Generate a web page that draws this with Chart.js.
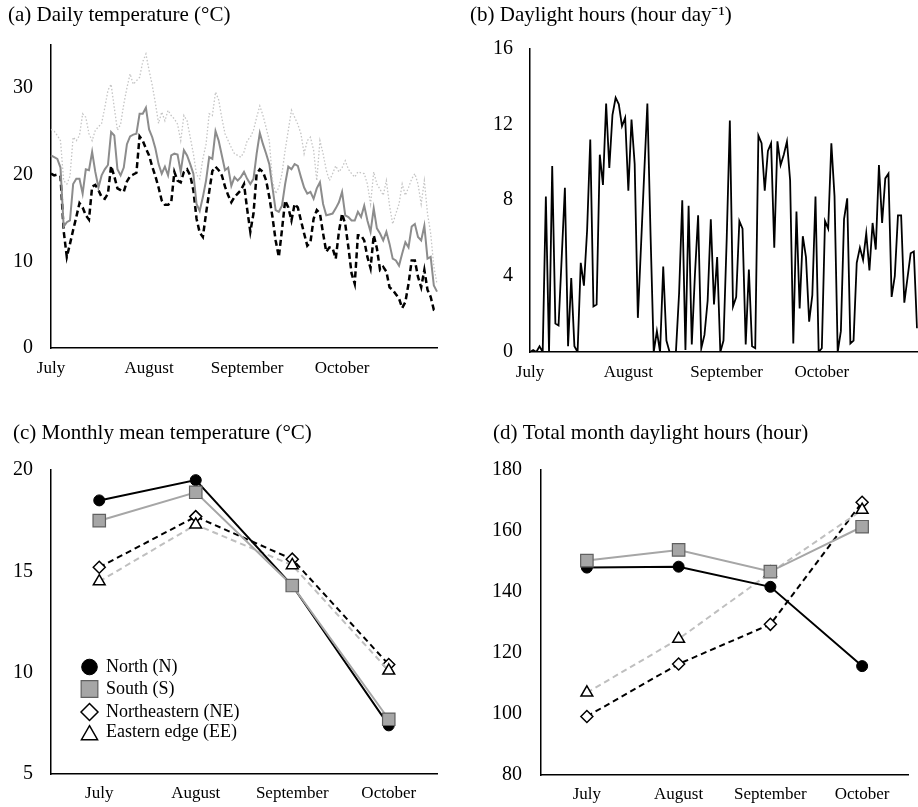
<!DOCTYPE html>
<html>
<head>
<meta charset="utf-8">
<title>Temperature and daylight</title>
<script src="https://cdn.jsdelivr.net/npm/chart.js"></script>
<style>
  html, body { margin: 0; padding: 0; background: #fff; overflow: hidden; }
  #wrap { position: relative; width: 918px; height: 807px; overflow: hidden; }
  #wrap canvas { position: absolute; }
</style>
</head>
<body>
<div id="wrap">
  <canvas id="chartA" width="459" height="400" style="left:0;top:0"></canvas>
  <canvas id="chartB" width="459" height="400" style="left:459px;top:0"></canvas>
  <canvas id="chartC" width="459" height="420" style="left:0;top:400px"></canvas>
  <canvas id="chartD" width="459" height="420" style="left:459px;top:400px"></canvas>
</div>
<script>
// months shown on every panel
const months = ['July', 'August', 'September', 'October'];
const monthDays = [31, 31, 30, 31];

// (a) daily temperature, one value per day from 1 July to 31 October
const tempMax = [
  25.2, 25.0, 24.5, 23.9, 19.3, 18.9, 19.8, 24.3, 23.9, 24.5, 27.0, 26.6, 24.7, 23.9, 25.1, 25.5,
  25.9, 27.7, 29.7, 30.4, 27.7, 25.1, 25.8, 28.1, 30.0, 31.6, 30.4, 30.8, 31.2, 33.0, 33.9,
  32.0, 30.3, 28.2, 25.9, 27.2, 26.2, 27.4, 26.8, 26.4, 25.8, 23.9, 26.8, 26.2, 24.3, 22.4, 20.0,
  19.5, 21.8, 23.5, 27.0, 26.8, 29.5, 28.6, 26.5, 24.7, 23.9, 23.1, 22.4, 22.2, 22.0, 22.6,
  23.9, 24.3, 25.1, 26.6, 27.9, 26.8, 25.4, 23.9, 19.3, 17.8, 18.5, 20.1, 22.8, 25.1, 27.4,
  26.6, 25.8, 24.7, 22.4, 23.9, 24.3, 22.8, 19.3, 23.9, 22.4, 20.5, 19.3, 20.1, 21.0, 20.3,
  20.8, 21.6, 20.6, 20.1, 19.7, 20.3, 20.2, 20.1, 18.9, 16.6, 20.3, 18.9, 18.3, 17.6, 19.3, 16.4,
  14.3, 15.5, 16.6, 18.9, 17.6, 18.5, 19.5, 20.1, 18.9, 16.6, 19.3, 15.5, 13.2, 9.4, 7.4
];
const tempMean = [
  22.2, 22.0, 21.8, 20.8, 14.0, 14.5, 14.7, 18.9, 19.5, 19.5, 17.8, 20.6, 20.5, 22.6, 20.3, 18.5,
  19.9, 20.6, 21.1, 24.9, 24.5, 20.6, 19.9, 20.8, 23.5, 24.4, 24.6, 24.7, 27.0, 27.0, 27.7,
  25.2, 24.3, 23.0, 21.2, 20.1, 20.9, 19.9, 22.2, 22.4, 22.3, 20.3, 22.8, 22.2, 21.2, 20.1, 16.6,
  15.8, 17.4, 19.3, 22.0, 21.8, 25.0, 23.9, 22.2, 20.5, 20.8, 18.7, 19.7, 19.3, 19.7, 20.3,
  19.5, 18.9, 19.5, 22.4, 24.8, 23.5, 22.4, 21.2, 18.5, 15.9, 15.7, 16.4, 18.9, 20.9, 20.6,
  21.2, 21.0, 19.7, 18.5, 17.8, 18.0, 17.2, 18.4, 19.1, 16.6, 15.3, 15.4, 15.5, 16.1, 16.8,
  18.0, 15.3, 15.1, 14.7, 14.7, 15.7, 15.1, 16.4, 14.7, 13.4, 16.1, 13.8, 13.2, 12.4, 13.4, 12.0,
  10.3, 10.1, 9.5, 10.9, 12.2, 11.6, 14.0, 14.3, 12.8, 12.4, 14.1, 10.3, 10.5, 7.2, 6.5
];
const tempMin = [
  20.1, 19.9, 20.0, 19.8, 13.5, 10.5, 12.0, 13.6, 15.1, 16.7, 16.2, 15.3, 14.8, 18.6, 18.8, 18.2,
  17.4, 17.2, 17.8, 21.0, 19.8, 18.4, 18.2, 18.0, 19.2, 19.8, 20.0, 20.2, 24.4, 23.9, 23.0,
  22.2, 20.9, 19.8, 18.5, 17.0, 16.5, 16.5, 16.8, 20.3, 19.3, 19.1, 20.3, 20.6, 19.9, 18.2, 14.9,
  13.3, 12.8, 15.5, 18.0, 20.4, 20.9, 20.5, 19.9, 18.6, 17.6, 16.8, 17.4, 17.8, 18.2, 18.9,
  16.0, 13.4, 15.5, 20.1, 20.6, 20.3, 19.3, 17.4, 15.1, 12.4, 10.5, 13.6, 17.0, 16.2, 14.7,
  16.6, 16.2, 14.7, 13.2, 11.8, 12.2, 14.9, 15.9, 15.5, 13.2, 11.1, 11.6, 11.5, 10.3, 13.4,
  15.5, 14.3, 11.6, 8.6, 7.4, 13.0, 13.0, 12.4, 10.5, 9.2, 13.0, 11.5, 9.0, 9.35, 8.8, 7.0,
  6.7, 6.2, 5.7, 4.6, 5.3, 7.4, 10.1, 10.1, 8.2, 7.0, 9.0, 6.7, 5.9, 4.4, 4.2
];

// (b) daily daylight hours
const daylight = [
  0.0, 0.1, 0.0, 0.3, 0.0, 8.2, 0.0, 9.8, 1.5, 1.4, 5.0, 8.65, 0.3, 3.9, 0.3, 0.0,
  4.7, 3.5, 6.4, 11.2, 2.4, 2.5, 10.4, 8.8, 13.1, 9.7, 12.5, 13.4, 13.05, 11.9, 12.35,
  8.5, 12.25, 9.9, 1.8, 5.6, 9.4, 13.1, 6.2, 0.0, 1.1, 0.0, 4.5, 0.6, 0.0, 0.0, 0.0,
  3.1, 8.0, 0.1, 7.7, 0.4, 4.1, 7.2, 0.2, 0.9, 2.7, 7.0, 2.5, 5.0, 0.0, 0.6,
  5.9, 12.2, 2.4, 2.9, 6.9, 6.5, 0.4, 4.35, 0.3, 0.2, 11.4, 11.0, 8.5, 10.6, 11.0,
  5.5, 11.1, 9.85, 10.4, 11.1, 9.05, 0.45, 7.4, 2.3, 6.1, 5.0, 1.6, 3.0, 8.2, 0.0,
  0.2, 6.9, 6.5, 11.0, 8.2, 0.0, 1.1, 7.0, 8.1, 0.45, 0.6, 4.7, 5.5, 4.85, 6.25, 4.3,
  6.8, 5.4, 9.85, 6.8, 9.15, 9.4, 2.9, 4.0, 7.2, 7.2, 2.6, 3.9, 5.2, 5.3, 1.25
];

// (c) and (d) monthly values per region
const regions = ['North (N)', 'South (S)', 'Northeastern (NE)', 'Eastern edge (EE)'];
const monthlyTemp = [
  [18.5, 19.5, 14.3, 7.4],
  [17.5, 18.9, 14.3, 7.7],
  [15.2, 17.7, 15.6, 10.4],
  [14.5, 17.3, 15.3, 10.1]
];
const monthlyDaylight = [
  [148, 148.3, 141.7, 115.7],
  [150.3, 153.8, 146.7, 161.4],
  [99.2, 116.4, 129.4, 169.4],
  [107, 124.6, 146.3, 166.9]
];

Chart.defaults.font.family = "'Liberation Serif', 'Times New Roman', serif";
Chart.defaults.color = '#000';
Chart.defaults.animation = false;

// day labels and the index where each month starts
const dayLabels = [];
const monthStarts = [];
months.forEach((m, k) => {
  monthStarts.push(dayLabels.length);
  for (let d = 1; d <= monthDays[k]; d++) dayLabels.push(m + ' ' + d);
});

function title(text, top, bottom) {
  return {
    display: true, text: text, align: 'start', color: '#000',
    font: { size: 21, weight: 'normal' },
    padding: { top: top, bottom: bottom }
  };
}

function yAxis(min, max, step, width, pad) {
  return {
    min: min, max: max,
    grid: { display: false, drawTicks: false },
    border: { color: '#000', width: 1.5 },
    ticks: { stepSize: step, includeBounds: false, padding: pad, font: { size: 20 } },
    afterFit: function (scale) { scale.width = width; }
  };
}

function dailyX(pad) {
  return {
    grid: { display: false, drawTicks: false },
    border: { color: '#000', width: 1.5 },
    ticks: {
      autoSkip: false, maxRotation: 0, minRotation: 0, padding: pad,
      font: { size: 17 },
      callback: function (v, i) {
        const k = monthStarts.indexOf(i);
        return k >= 0 ? months[k] : null;
      }
    }
  };
}

function monthX(pad) {
  return {
    offset: true,
    grid: { display: false, drawTicks: false },
    border: { color: '#000', width: 1.5 },
    ticks: { padding: pad, font: { size: 17 } }
  };
}

const plainPlugins = { legend: { display: false }, tooltip: { enabled: false } };

// (a)
new Chart(document.getElementById('chartA'), {
  type: 'line',
  data: {
    labels: dayLabels,
    datasets: [
      { label: 'Max', data: tempMax, borderColor: '#c4c4c4', borderWidth: 1.3, borderDash: [1.5, 2], pointRadius: 0 },
      { label: 'Mean', data: tempMean, borderColor: '#8c8c8c', borderWidth: 2, pointRadius: 0 },
      { label: 'Min', data: tempMin, borderColor: '#000', borderWidth: 2.5, borderDash: [6, 3.5], pointRadius: 0 }
    ]
  },
  options: {
    responsive: false,
    layout: { padding: { left: 8, right: 22, top: 0, bottom: 11.6 } },
    plugins: Object.assign({ title: title('(a) Daily temperature (°C)', 2.4, 16.8) }, plainPlugins),
    scales: { x: dailyX(10), y: yAxis(0, 35, 10, 43, 18) }
  }
});

// (b)
new Chart(document.getElementById('chartB'), {
  type: 'line',
  data: {
    labels: dayLabels,
    datasets: [
      { label: 'Daylight', data: daylight, borderColor: '#000', borderWidth: 1.8, pointRadius: 0 }
    ]
  },
  options: {
    responsive: false,
    layout: { padding: { left: 11, right: 1, top: 0, bottom: 7.6 } },
    plugins: Object.assign({ title: title('(b) Daylight hours (hour day⁻¹)', 2.4, 20.8) }, plainPlugins),
    scales: { x: dailyX(10), y: yAxis(0, 16, 4, 60, 17) }
  }
});

// marker look for the four regions
const regionStyle = [
  { line: '#000', dash: [], point: 'circle', radius: 5.5, fill: '#000', edge: '#000', edgeW: 1, order: 1 },
  { line: '#a6a6a6', dash: [], point: 'rect', radius: 8.8, fill: '#a6a6a6', edge: '#606060', edgeW: 1.2, order: 0 },
  { line: '#000', dash: [6, 4], point: 'rectRot', radius: 6, fill: '#fff', edge: '#000', edgeW: 1.5, order: 3 },
  { line: '#bfbfbf', dash: [6, 4], point: 'triangle', radius: 6.8, fill: '#fff', edge: '#000', edgeW: 1.5, order: 2 }
];

function regionSets(values) {
  return regions.map((name, i) => {
    const s = regionStyle[i];
    return {
      label: name, data: values[i], order: s.order,
      borderColor: s.line, borderWidth: 2, borderDash: s.dash,
      pointStyle: s.point, pointRadius: s.radius,
      pointBackgroundColor: s.fill, pointBorderColor: s.edge, pointBorderWidth: s.edgeW
    };
  });
}

// legend drawn inside the plot area of panel (c)
const insideLegend = {
  id: 'insideLegend',
  afterDatasetsDraw(chart) {
    const { ctx, chartArea } = chart;
    const rowY = [197, 219, 242, 265];
    const textY = [197, 219, 242, 262];
    const sizes = [7.8, 11.8, 8.5, 9.3];
    ctx.save();
    ctx.font = "18px 'Liberation Serif', 'Times New Roman', serif";
    ctx.textBaseline = 'middle';
    ctx.textAlign = 'left';
    regions.forEach((name, i) => {
      const s = regionStyle[i];
      const x = chartArea.left + 38.5;
      const y = chartArea.top + rowY[i];
      ctx.fillStyle = s.fill;
      ctx.strokeStyle = s.edge;
      ctx.lineWidth = s.edgeW;
      Chart.helpers.drawPoint(ctx, { pointStyle: s.point, radius: sizes[i], rotation: 0, borderWidth: s.edgeW }, x, y);
      ctx.fillStyle = '#000';
      ctx.fillText(name, chartArea.left + 55, chartArea.top + textY[i]);
    });
    ctx.restore();
  }
};

// (c)
new Chart(document.getElementById('chartC'), {
  type: 'line',
  data: { labels: months, datasets: regionSets(monthlyTemp) },
  options: {
    responsive: false,
    layout: { padding: { left: 13, right: 22, top: 0, bottom: 7.6 } },
    plugins: Object.assign({ title: title('(c) Monthly mean temperature (°C)', 20.4, 24.4) }, plainPlugins),
    scales: { x: monthX(9), y: yAxis(5, 20, 5, 38, 18) }
  },
  plugins: [insideLegend]
});

// (d)
new Chart(document.getElementById('chartD'), {
  type: 'line',
  data: { labels: months, datasets: regionSets(monthlyDaylight) },
  options: {
    responsive: false,
    layout: { padding: { left: 34, right: 2, top: 0, bottom: 6.6 } },
    plugins: Object.assign({ title: title('(d) Total month daylight hours (hour)', 20.4, 24.4) }, plainPlugins),
    scales: { x: monthX(9), y: yAxis(80, 180, 20, 48, 19) }
  }
});
</script>
</body>
</html>
